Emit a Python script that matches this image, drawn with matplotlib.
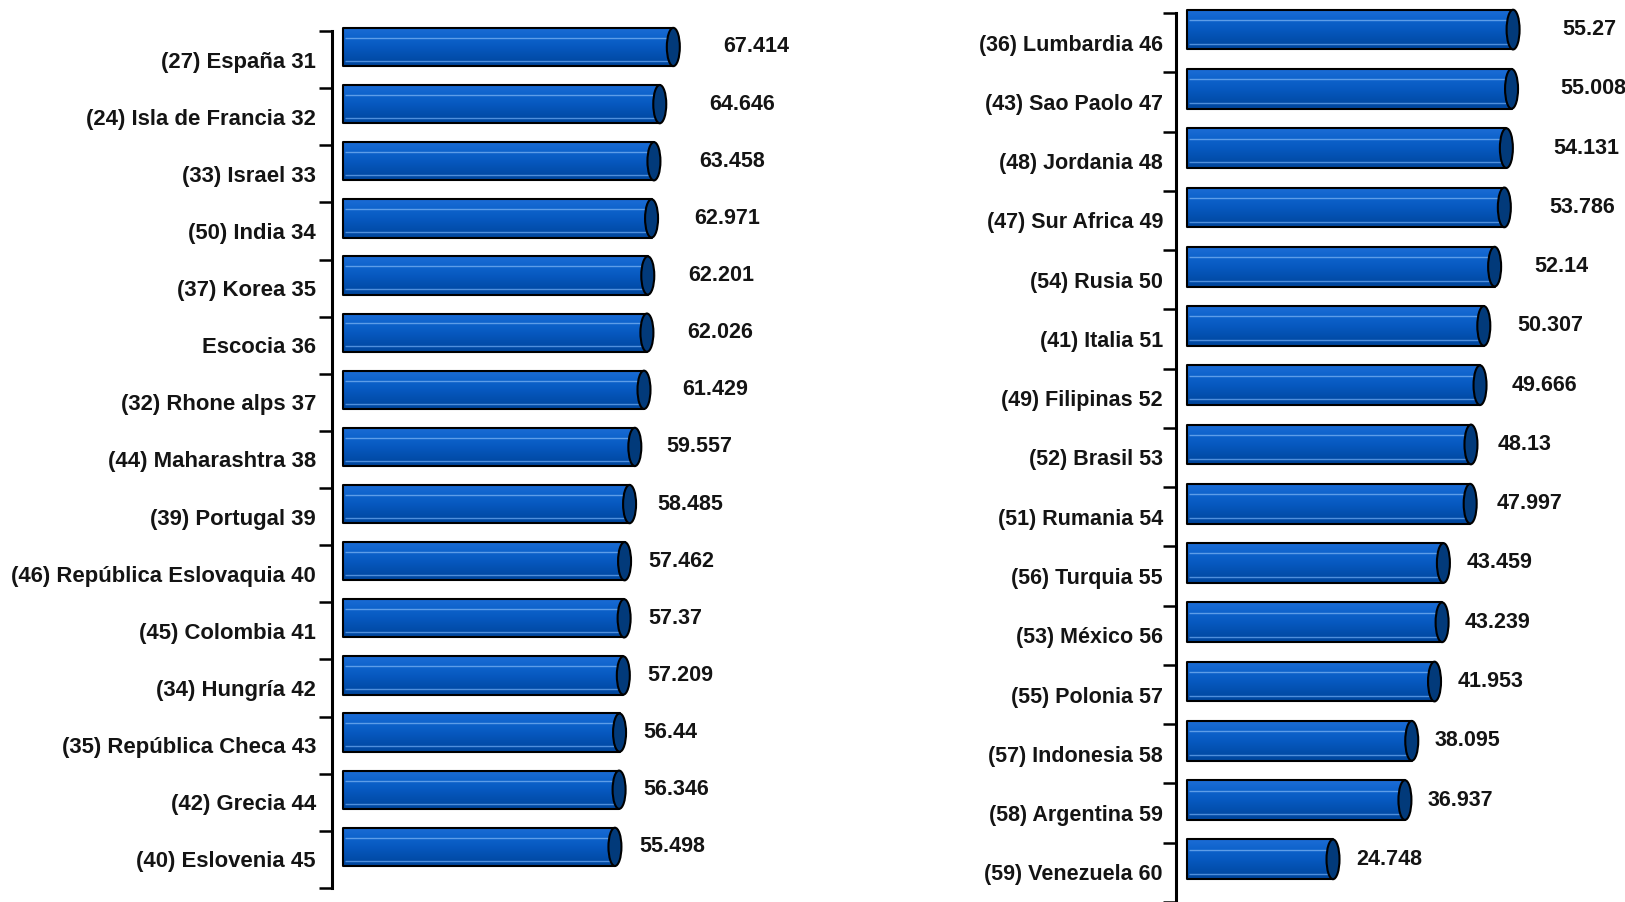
import numpy as np
import matplotlib
matplotlib.use("Agg")
import matplotlib.pyplot as plt
from matplotlib.patches import Ellipse, Rectangle
from matplotlib.colors import LinearSegmentedColormap

# ---------------- data ----------------
left_labels = ["(27) España 31", "(24) Isla de Francia 32", "(33) Israel 33", "(50) India 34",
               "(37) Korea 35", "Escocia 36", "(32) Rhone alps 37", "(44) Maharashtra 38",
               "(39) Portugal 39", "(46) República Eslovaquia 40", "(45) Colombia 41",
               "(34) Hungría 42", "(35) República Checa 43", "(42) Grecia 44", "(40) Eslovenia 45"]
left_values = [67.414, 64.646, 63.458, 62.971, 62.201, 62.026, 61.429, 59.557,
               58.485, 57.462, 57.37, 57.209, 56.44, 56.346, 55.498]

right_labels = ["(36) Lumbardia 46", "(43) Sao Paolo 47", "(48) Jordania 48", "(47) Sur Africa 49",
                "(54) Rusia 50", "(41) Italia 51", "(49) Filipinas 52", "(52) Brasil 53",
                "(51) Rumania 54", "(56) Turquia 55", "(53) México 56", "(55) Polonia 57",
                "(57) Indonesia 58", "(58) Argentina 59", "(59) Venezuela 60"]
right_values = [55.27, 55.008, 54.131, 53.786, 52.14, 50.307, 49.666, 48.13,
                47.997, 43.459, 43.239, 41.953, 38.095, 36.937, 24.748]

# ---------------- style ----------------
plt.rcParams['font.family'] = ['Liberation Sans', 'DejaVu Sans']
TEXT = '#141414'
FS = 15.5
W, H = 1625, 902
fig = plt.figure(figsize=(W / 100, H / 100), dpi=100)

grad_cmap = LinearSegmentedColormap.from_list(
    'cyl', ['#1c6cd6', '#0e63cc', '#0759c0', '#034fae', '#00469c'])
gradient = np.linspace(0, 1, 64).reshape(-1, 1)


def draw_panel(labels, values, zero_px, k_px, spine_px, top_px, bot_px, right_px,
               label_pad_px, label_fs, gap_base, gap_thr, gap_rate):
    n = len(values)
    ax = fig.add_axes([spine_px / W, 1 - bot_px / H,
                       (right_px - spine_px) / W, (bot_px - top_px) / H])
    ax.patch.set_visible(False)
    cap_w = 13.0 / k_px
    h = 0.67
    for i, v in enumerate(values):
        yc = i - 0.22
        body = Rectangle((0, yc - h / 2), v, h, fc='#0a5cc4', ec='none', zorder=2,
                         clip_on=False)
        ax.add_patch(body)
        im = ax.imshow(gradient, cmap=grad_cmap, extent=(0, v, yc + h / 2, yc - h / 2),
                       origin='upper', aspect='auto', zorder=2.1, interpolation='bilinear')
        im.set_clip_path(body)
        ax.plot([0.4, v], [yc - h * 0.24] * 2, color='#5d9de8', lw=1.0, zorder=2.2,
                solid_capstyle='butt', clip_on=False)
        ax.plot([0.4, v], [yc + h * 0.36] * 2, color='#4f8fdc', lw=1.0, zorder=2.2,
                solid_capstyle='butt', clip_on=False)
        ax.add_patch(Rectangle((0, yc - h / 2), v, h, fc='none', ec='black', lw=1.5,
                               zorder=2.3, joinstyle='round', clip_on=False))
        ax.add_patch(Ellipse((v, yc), cap_w, h, fc='#023a7a', ec='black', lw=1.5,
                             zorder=2.4, clip_on=False))
        gap_px = 6 + gap_base + min(26, max(0.0, v - gap_thr) * gap_rate)
        ax.annotate(f"{v:g}", xy=(v, yc), xytext=(gap_px * 0.72, 0),
                    textcoords='offset points', ha='left', va='center',
                    fontsize=FS, fontweight='bold', color=TEXT, zorder=3,
                    annotation_clip=False)

    ax.set_xlim((spine_px - zero_px) / k_px, (right_px - zero_px) / k_px)
    ax.set_ylim(n - 0.5, -0.5)
    ax.set_yticks(np.arange(-0.5, n, 1.0))
    ax.set_yticklabels([])
    ax.set_yticks(np.arange(n), labels, minor=True, fontsize=label_fs, fontweight='bold',
                  color=TEXT)
    ax.tick_params(axis='y', which='major', length=9.4, width=1.8, direction='out',
                   color='black')
    ax.tick_params(axis='y', which='minor', length=0, pad=label_pad_px * 0.72)
    ax.xaxis.set_visible(False)
    for s in ('top', 'right', 'bottom'):
        ax.spines[s].set_visible(False)
    ax.spines['left'].set_linewidth(2.2)
    ax.spines['left'].set_color('black')
    return ax


draw_panel(left_labels, left_values, zero_px=343, k_px=4.9, spine_px=332, top_px=31,
           bot_px=888, right_px=820, label_pad_px=16, label_fs=15.9,
           gap_base=18, gap_thr=57.5, gap_rate=3.5)
draw_panel(right_labels, right_values, zero_px=1187, k_px=5.9, spine_px=1176, top_px=13,
           bot_px=902, right_px=1625, label_pad_px=13, label_fs=FS,
           gap_base=17, gap_thr=47.0, gap_rate=3.3)

fig.savefig('out.png', dpi=100)
